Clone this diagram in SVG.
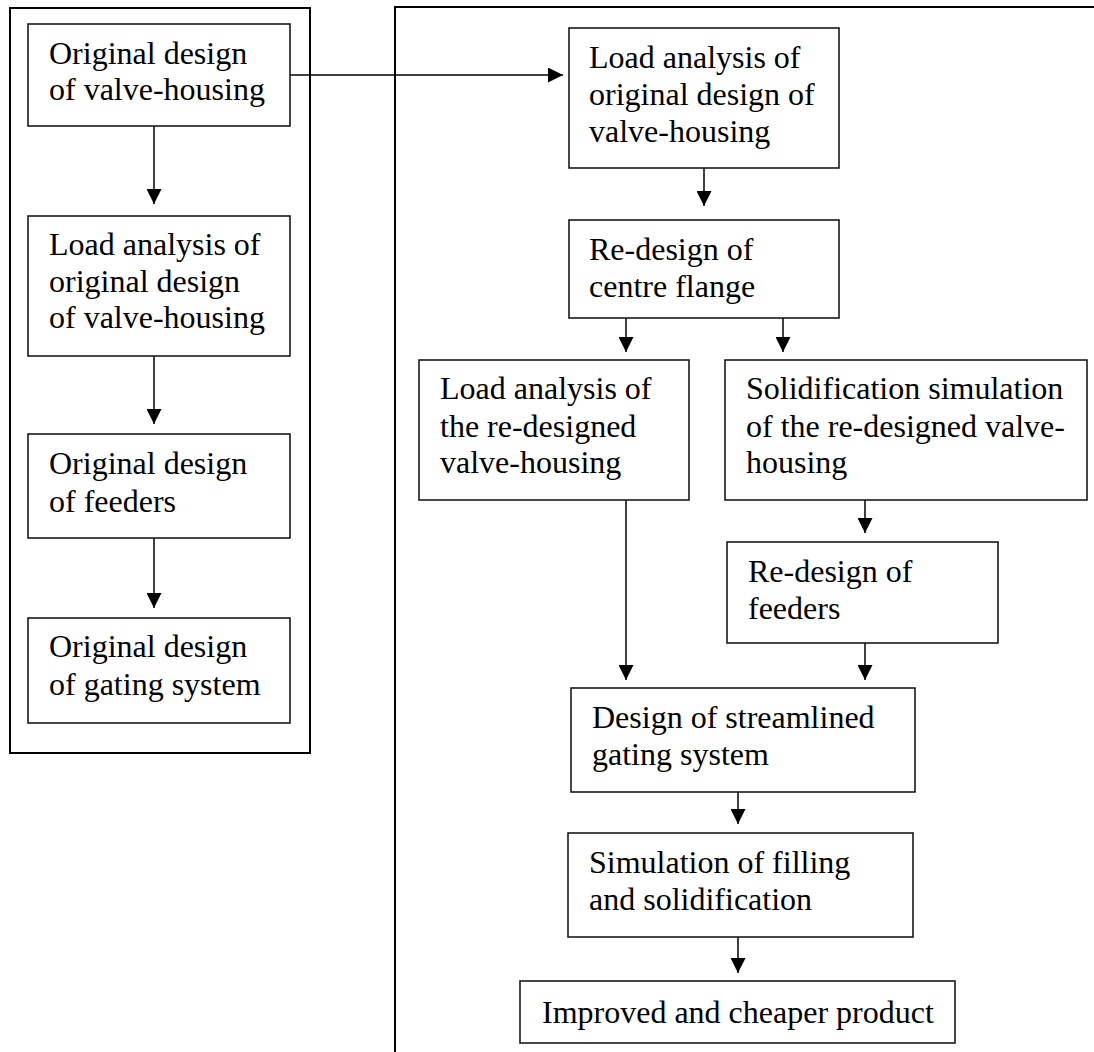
<svg xmlns="http://www.w3.org/2000/svg" width="1094" height="1052" viewBox="0 0 1094 1052">
  <style>
    .frame { fill: none; stroke: #000; stroke-width: 2; }
    .box { fill: #fff; stroke: #1a1a1a; stroke-width: 1.6; }
    .lbl { font-family: "Liberation Serif", "Times New Roman", serif; font-size: 32px; fill: #000; }
    .conn { fill: none; stroke: #000; stroke-width: 1.5; marker-end: url(#arrow); }
  </style>
  <defs>
    <marker id="arrow" markerUnits="userSpaceOnUse" markerWidth="15" markerHeight="15" refX="15" refY="7.5" orient="auto">
      <path d="M0,0 L15,7.5 L0,15 Z" fill="#000"/>
    </marker>
  </defs>

  <rect id="white-bg" x="0" y="0" width="1094" height="1052" fill="#fff"/>

  <!-- grouping frames: original process (left) and improved process (right) -->
  <g id="frames">
    <rect class="frame" x="10" y="8" width="300" height="745"/>
    <path class="frame" d="M395,1052 V7 H1094"/>
  </g>

  <!-- connectors -->
  <g id="connectors">
    <line class="conn" x1="154" y1="126" x2="154" y2="204"/>
    <line class="conn" x1="154" y1="356" x2="154" y2="424"/>
    <line class="conn" x1="154" y1="538" x2="154" y2="608"/>
    <line class="conn" x1="290" y1="75" x2="563" y2="75"/>
    <line class="conn" x1="704" y1="168" x2="704" y2="206"/>
    <line class="conn" x1="626" y1="318" x2="626" y2="352"/>
    <line class="conn" x1="783" y1="318" x2="783" y2="352"/>
    <line class="conn" x1="626" y1="500" x2="626" y2="680"/>
    <line class="conn" x1="865" y1="500" x2="865" y2="533"/>
    <line class="conn" x1="865" y1="643" x2="865" y2="680"/>
    <line class="conn" x1="738" y1="792" x2="738" y2="824"/>
    <line class="conn" x1="738" y1="937" x2="738" y2="973"/>
  </g>

  <!-- left column: original design -->
  <g id="orig-valve-housing">
    <rect class="box" x="28" y="24" width="262" height="102"/>
    <text class="lbl"><tspan x="49" y="64">Original design</tspan><tspan x="49" y="100">of valve-housing</tspan></text>
  </g>
  <g id="orig-load-analysis">
    <rect class="box" x="28" y="216" width="262" height="140"/>
    <text class="lbl"><tspan x="49" y="255">Load analysis of</tspan><tspan x="49" y="292">original design</tspan><tspan x="49" y="328">of valve-housing</tspan></text>
  </g>
  <g id="orig-feeders">
    <rect class="box" x="28" y="434" width="262" height="104"/>
    <text class="lbl"><tspan x="49" y="474">Original design</tspan><tspan x="49" y="512">of feeders</tspan></text>
  </g>
  <g id="orig-gating">
    <rect class="box" x="28" y="618" width="262" height="105"/>
    <text class="lbl"><tspan x="49" y="657">Original design</tspan><tspan x="49" y="695">of gating system</tspan></text>
  </g>

  <!-- right column: improved design -->
  <g id="load-analysis-original">
    <rect class="box" x="569" y="28" width="270" height="140"/>
    <text class="lbl"><tspan x="589" y="68">Load analysis of</tspan><tspan x="589" y="105">original design of</tspan><tspan x="589" y="142">valve-housing</tspan></text>
  </g>
  <g id="redesign-flange">
    <rect class="box" x="569" y="220" width="270" height="98"/>
    <text class="lbl"><tspan x="589" y="260">Re-design of</tspan><tspan x="589" y="297">centre flange</tspan></text>
  </g>
  <g id="load-analysis-redesigned">
    <rect class="box" x="419" y="360" width="270" height="140"/>
    <text class="lbl"><tspan x="440" y="399">Load analysis of</tspan><tspan x="440" y="437">the re-designed</tspan><tspan x="440" y="473">valve-housing</tspan></text>
  </g>
  <g id="solidification-sim">
    <rect class="box" x="725" y="360" width="362" height="140"/>
    <text class="lbl"><tspan x="746" y="399">Solidification simulation</tspan><tspan x="746" y="437">of the re-designed valve-</tspan><tspan x="746" y="473">housing</tspan></text>
  </g>
  <g id="redesign-feeders">
    <rect class="box" x="727" y="542" width="271" height="101"/>
    <text class="lbl"><tspan x="748" y="582">Re-design of</tspan><tspan x="748" y="619">feeders</tspan></text>
  </g>
  <g id="streamlined-gating">
    <rect class="box" x="571" y="688" width="344" height="104"/>
    <text class="lbl"><tspan x="592" y="728">Design of streamlined</tspan><tspan x="592" y="765">gating system</tspan></text>
  </g>
  <g id="filling-sim">
    <rect class="box" x="568" y="833" width="345" height="104"/>
    <text class="lbl"><tspan x="589" y="873">Simulation of filling</tspan><tspan x="589" y="910">and solidification</tspan></text>
  </g>
  <g id="improved-product">
    <rect class="box" x="520" y="981" width="435" height="62"/>
    <text class="lbl" x="542" y="1023">Improved and cheaper product</text>
  </g>
</svg>
